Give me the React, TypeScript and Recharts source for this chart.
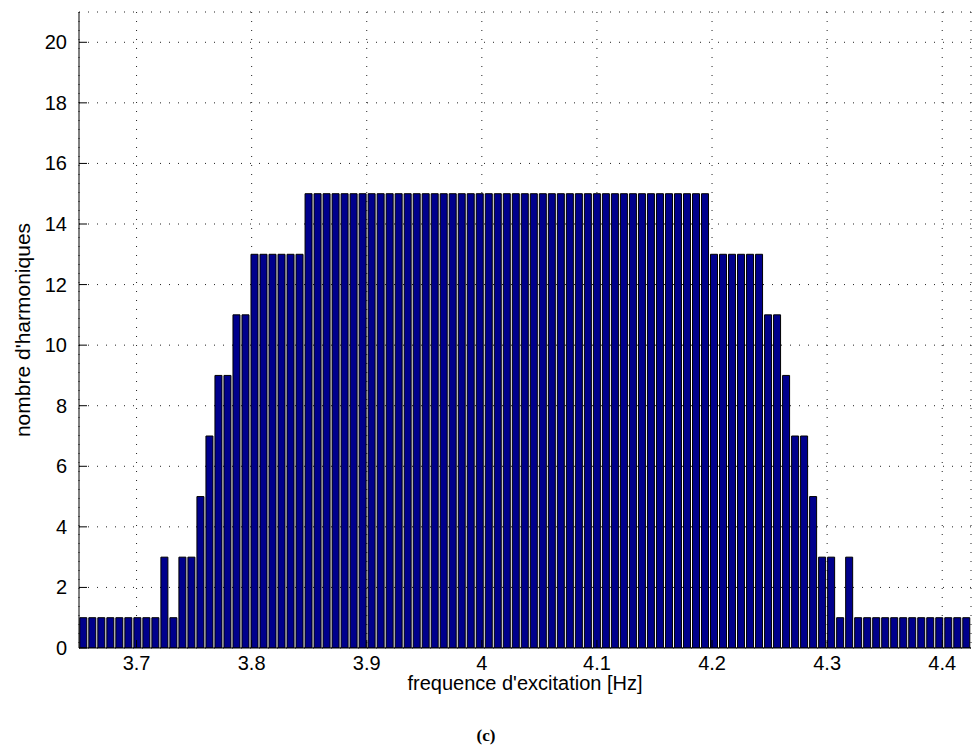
import React from 'react';
import { BarChart, Bar, XAxis, YAxis, CartesianGrid } from 'recharts';

// excitation frequencies (Hz), one per bar
const frequencies = [
  3.6539, 3.6617, 3.6696, 3.6774, 3.6852, 3.6931, 3.7009, 3.7087, 3.7165, 3.7244,
  3.7322, 3.74, 3.7479, 3.7557, 3.7635, 3.7713, 3.7792, 3.787, 3.7948, 3.8027,
  3.8105, 3.8183, 3.8261, 3.834, 3.8418, 3.8496, 3.8575, 3.8653, 3.8731, 3.8809,
  3.8888, 3.8966, 3.9044, 3.9122, 3.9201, 3.9279, 3.9357, 3.9436, 3.9514, 3.9592,
  3.967, 3.9749, 3.9827, 3.9905, 3.9984, 4.0062, 4.014, 4.0218, 4.0297, 4.0375,
  4.0453, 4.0532, 4.061, 4.0688, 4.0766, 4.0845, 4.0923, 4.1001, 4.108, 4.1158,
  4.1236, 4.1314, 4.1393, 4.1471, 4.1549, 4.1628, 4.1706, 4.1784, 4.1862, 4.1941,
  4.2019, 4.2097, 4.2176, 4.2254, 4.2332, 4.241, 4.2489, 4.2567, 4.2645, 4.2724,
  4.2802, 4.288, 4.2958, 4.3037, 4.3115, 4.3193, 4.3271, 4.335, 4.3428, 4.3506,
  4.3585, 4.3663, 4.3741, 4.3819, 4.3898, 4.3976, 4.4054, 4.4133, 4.4211,
];

// number of harmonics per frequency
const harmonics = [
  1, 1, 1, 1, 1, 1, 1, 1, 1, 3,
  1, 3, 3, 5, 7, 9, 9, 11, 11, 13,
  13, 13, 13, 13, 13, 15, 15, 15, 15, 15,
  15, 15, 15, 15, 15, 15, 15, 15, 15, 15,
  15, 15, 15, 15, 15, 15, 15, 15, 15, 15,
  15, 15, 15, 15, 15, 15, 15, 15, 15, 15,
  15, 15, 15, 15, 15, 15, 15, 15, 15, 15,
  13, 13, 13, 13, 13, 13, 11, 11, 9, 7,
  7, 5, 3, 3, 1, 3, 1, 1, 1, 1,
  1, 1, 1, 1, 1, 1, 1, 1, 1,
];

const xTicks = [3.7, 3.8, 3.9, 4, 4.1, 4.2, 4.3, 4.4];
const yTicks = [0, 2, 4, 6, 8, 10, 12, 14, 16, 18, 20];

const FONT = '"Liberation Sans", Arial, Helvetica, sans-serif';
const TICK_LEN = 8;
const PLOT_TOP = 12;
const PLOT_BOTTOM = 648;
const PLOT_LEFT = 79;
const PLOT_RIGHT = 971;

const rows = frequencies.map((f, i) => ({ f, n: harmonics[i] }));

const BottomTick = (p: any) => (
  <g>
    <line x1={p.x} x2={p.x} y1={PLOT_BOTTOM} y2={PLOT_BOTTOM - TICK_LEN} stroke="#000" />
    <text x={p.x} y={PLOT_BOTTOM + 22} textAnchor="middle" fontSize={20} fontFamily={FONT} fill="#000">
      {String(p.payload.value)}
    </text>
  </g>
);

const TopTick = (p: any) => (
  <line x1={p.x} x2={p.x} y1={PLOT_TOP} y2={PLOT_TOP + TICK_LEN} stroke="#000" />
);

const LeftTick = (p: any) => (
  <g>
    <line x1={PLOT_LEFT} x2={PLOT_LEFT + TICK_LEN} y1={p.y} y2={p.y} stroke="#000" />
    <text x={PLOT_LEFT - 12} y={p.y} textAnchor="end" dominantBaseline="central" fontSize={20} fontFamily={FONT} fill="#000">
      {String(p.payload.value)}
    </text>
  </g>
);

const RightTick = (p: any) => (
  <line x1={PLOT_RIGHT} x2={PLOT_RIGHT - TICK_LEN} y1={p.y} y2={p.y} stroke="#000" />
);

export default function App() {
  return (
    <div style={{ position: 'absolute', left: 0, top: 0, width: 972, height: 747, background: '#fff' }}>
      <BarChart
        width={972}
        height={747}
        data={rows}
        margin={{ top: PLOT_TOP, right: 972 - PLOT_RIGHT, left: 0, bottom: 0 }}
        barCategoryGap={0.8}
      >
        <CartesianGrid xAxisId="num" yAxisId="left" stroke="#222" strokeDasharray="1 8" />
        <XAxis xAxisId="cat" dataKey="f" type="category" hide height={0} />
        <XAxis
          xAxisId="num"
          dataKey="f"
          type="number"
          domain={[3.65, 4.425]}
          allowDataOverflow
          ticks={xTicks}
          height={747 - PLOT_BOTTOM}
          tickSize={0}
          tick={BottomTick}
          axisLine={{ stroke: '#000' }}
          label={{
            content: () => (
              <text x={(PLOT_LEFT + PLOT_RIGHT) / 2} y={PLOT_BOTTOM + 35} textAnchor="middle" dominantBaseline="central" fontSize={20} fontFamily={FONT} fill="#000">
                frequence d'excitation [Hz]
              </text>
            ),
          }}
        />
        <XAxis
          xAxisId="top"
          orientation="top"
          dataKey="f"
          type="number"
          domain={[3.65, 4.425]}
          allowDataOverflow
          ticks={xTicks}
          height={0}
          tickSize={0}
          tick={TopTick}
          axisLine={{ stroke: '#000' }}
        />
        <YAxis
          yAxisId="left"
          type="number"
          domain={[0, 21]}
          allowDataOverflow
          ticks={yTicks}
          width={PLOT_LEFT}
          tickSize={0}
          tick={LeftTick}
          axisLine={{ stroke: '#000' }}
          label={{
            content: () => {
              const cx = 22;
              const cy = (PLOT_TOP + PLOT_BOTTOM) / 2;
              return (
                <text x={cx} y={cy} transform={`rotate(-90 ${cx} ${cy})`} textAnchor="middle" dominantBaseline="central" fontSize={21} fontFamily={FONT} fill="#000">
                  nombre d'harmoniques
                </text>
              );
            },
          }}
        />
        <YAxis
          yAxisId="right"
          orientation="right"
          type="number"
          domain={[0, 21]}
          allowDataOverflow
          ticks={yTicks}
          width={0}
          tickSize={0}
          tick={RightTick}
          axisLine={{ stroke: '#000' }}
        />
        <Bar
          xAxisId="cat"
          yAxisId="left"
          dataKey="n"
          fill="#00008C"
          stroke="#000"
          strokeWidth={1}
          isAnimationActive={false}
        />
      </BarChart>
      <div
        style={{
          position: 'absolute',
          left: 0,
          width: 972,
          top: 726,
          textAlign: 'center',
          fontFamily: '"Liberation Serif", "Times New Roman", serif',
          fontWeight: 'bold',
          fontSize: 17,
        }}
      >
        (c)
      </div>
    </div>
  );
}
